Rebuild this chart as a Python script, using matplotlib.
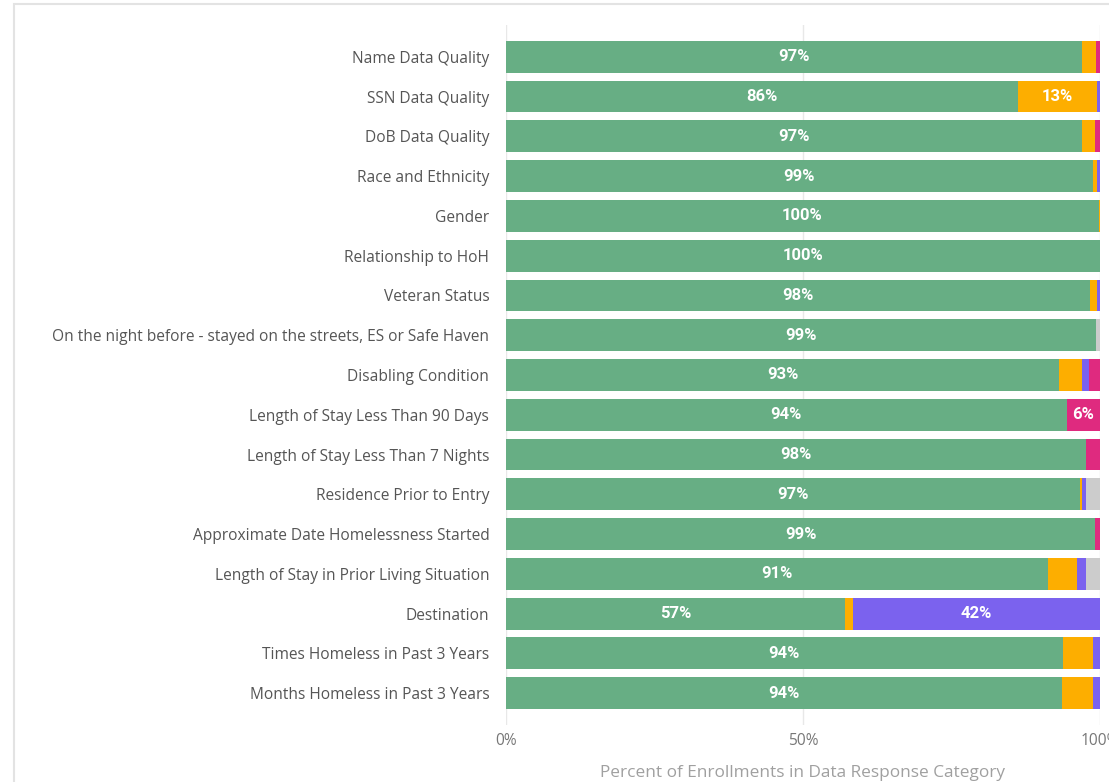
import numpy as np
import matplotlib.pyplot as plt
from matplotlib.patches import Rectangle

# categorias (de arriba hacia abajo)
categorias = [
    "Name Data Quality",
    "SSN Data Quality",
    "DoB Data Quality",
    "Race and Ethnicity",
    "Gender",
    "Relationship to HoH",
    "Veteran Status",
    "On the night before - stayed on the streets, ES or Safe Haven",
    "Disabling Condition",
    "Length of Stay Less Than 90 Days",
    "Length of Stay Less Than 7 Nights",
    "Residence Prior to Entry",
    "Approximate Date Homelessness Started",
    "Length of Stay in Prior Living Situation",
    "Destination",
    "Times Homeless in Past 3 Years",
    "Months Homeless in Past 3 Years",
]

# porcentajes por categoria de respuesta
verde = [97.0, 86.2, 97.0, 98.8, 99.8, 100.0, 98.3, 99.3, 93.1, 94.4, 97.6, 96.6, 99.2, 91.3, 57.1, 93.7, 93.6]
naranja = [2.3, 13.3, 2.2, 0.7, 0.2, 0.0, 1.2, 0.0, 3.9, 0.0, 0.0, 0.4, 0.0, 4.8, 1.3, 5.1, 5.3]
morado = [0.0, 0.5, 0.0, 0.5, 0.0, 0.0, 0.5, 0.0, 1.2, 0.0, 0.0, 0.6, 0.0, 1.6, 41.6, 1.2, 1.1]
rosa = [0.7, 0.0, 0.8, 0.0, 0.0, 0.0, 0.0, 0.0, 1.8, 5.6, 2.4, 0.0, 0.8, 0.0, 0.0, 0.0, 0.0]
gris = [0.0, 0.0, 0.0, 0.0, 0.0, 0.0, 0.0, 0.7, 0.0, 0.0, 0.0, 2.4, 0.0, 2.3, 0.0, 0.0, 0.0]

series = [verde, naranja, morado, rosa, gris]
colores = ["#67ae84", "#fdae00", "#7b62ee", "#df2a7f", "#cccccc"]

plt.rcParams['font.family'] = ['Open Sans', 'DejaVu Sans']

fig = plt.figure(figsize=(11.09, 7.82), dpi=100)
ax = fig.add_axes([506 / 1109, 57 / 782, 594 / 1109, 700 / 782])

# marco gris claro alrededor del visual
fig.patches.append(Rectangle((14 / 1109, -0.01), 1.1, 778 / 782 + 0.01,
                             transform=fig.transFigure, fill=False,
                             edgecolor="#e3e3e3", linewidth=1.5))

y = np.arange(len(categorias))
izquierda = np.zeros(len(categorias))
for valores, color in zip(series, colores):
    valores = np.array(valores)
    ax.barh(y, valores, left=izquierda, height=0.8, color=color, zorder=2)
    for i, v in enumerate(valores):
        if v >= 5.5:
            ax.text(izquierda[i] + v / 2, y[i], f"{round(v)}%", ha="center", va="center",
                    color="white", fontsize=12, fontweight="bold", family=["Roboto", "DejaVu Sans"],
                    zorder=3)
    izquierda += valores

ax.set_xlim(0, 100)
ax.set_ylim(16.8, -0.8)
ax.set_yticks(y)
ax.set_yticklabels(categorias, fontsize=11.2, color="#555555")
ax.set_xticks([0, 50, 100])
ax.set_xticklabels(["0%", "50%", "100%"], fontsize=11.2, color="#777777")
ax.tick_params(axis="x", length=0, pad=6)
ax.tick_params(axis="y", length=0, pad=12)
ax.grid(axis="x", color="#e8e8e8", linewidth=1, zorder=0)
for s in ax.spines.values():
    s.set_visible(False)
ax.set_xlabel("Percent of Enrollments in Data Response Category", fontsize=12.4,
              color="#a0a0a0", labelpad=11)

plt.savefig("out.png", dpi=100)
